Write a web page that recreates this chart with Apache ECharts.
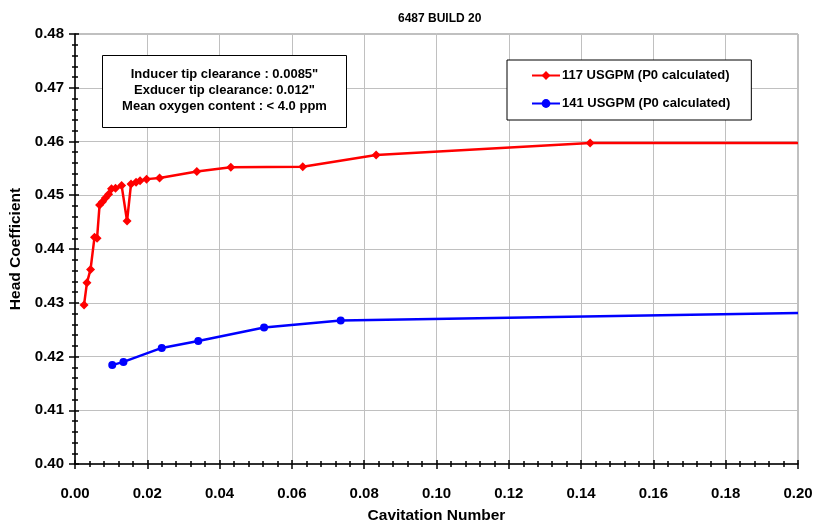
<!DOCTYPE html>
<html>
<head>
<meta charset="utf-8">
<script src="https://cdn.jsdelivr.net/npm/echarts@6/dist/echarts.min.js"></script>
<style>html,body{margin:0;padding:0;background:#fff;}#c{width:814px;height:522px;}</style>
</head>
<body>
<div id="c"></div>
<script>
const titleText = '6487 BUILD 20';
const xAxisName = 'Cavitation Number';
const yAxisName = 'Head Coefficient';
const seriesNames = ['117 USGPM (P0 calculated)', '141 USGPM (P0 calculated)'];
const noteLines = ['Inducer tip clearance : 0.0085"', 'Exducer tip clearance: 0.012"', 'Mean oxygen content : < 4.0 ppm'];

const redX = [0.0025, 0.0033, 0.0043, 0.0054, 0.0061, 0.0068, 0.0076, 0.0084, 0.0093, 0.0101, 0.0112, 0.0129, 0.0144, 0.0155, 0.0169, 0.0180, 0.0198, 0.0234, 0.0337, 0.0431, 0.0630, 0.0833, 0.1425, 0.2000];
const redY = [0.4296, 0.4337, 0.4362, 0.4422, 0.4420, 0.4482, 0.4488, 0.4495, 0.4502, 0.4512, 0.4513, 0.4518, 0.4452, 0.4521, 0.4524, 0.4527, 0.4530, 0.4532, 0.4544, 0.4552, 0.4553, 0.4575, 0.4597, 0.4597];
const blueX = [0.0103, 0.0134, 0.0240, 0.0341, 0.0523, 0.0735, 0.2000];
const blueY = [0.4184, 0.4190, 0.4216, 0.4229, 0.4254, 0.4267, 0.4281];

const xMin = 0, xMax = 0.2, xStep = 0.02;
const yMin = 0.40, yMax = 0.48, yStep = 0.01;

const FONT = '"Liberation Sans", Arial, sans-serif';

function toData(xs, ys, lastHidden) {
  return xs.map((x, i) => {
    const item = { value: [x, ys[i]] };
    if (lastHidden && i === xs.length - 1) item.symbol = 'none';
    return item;
  });
}

const chart = echarts.init(document.getElementById('c'), null, { renderer: 'canvas' });

const baseX = {
  type: 'value', min: xMin, max: xMax, interval: xStep, position: 'bottom'
};
const baseY = {
  type: 'value', min: yMin, max: yMax, interval: yStep, position: 'left'
};

chart.setOption({
  animation: false,
  backgroundColor: '#ffffff',
  title: {
    text: titleText, left: 393, top: 8,
    textStyle: { fontFamily: FONT, fontSize: 12, fontWeight: 'bold', color: '#000' }
  },
  grid: {
    left: 75, right: 16, top: 34, bottom: 58,
    containLabel: false, outerBoundsMode: 'none',
    show: true, borderColor: '#808080', borderWidth: 1, backgroundColor: 'transparent'
  },
  legend: {
    orient: 'vertical', left: 507, top: 60,
    padding: [9, 21, 10, 24],
    itemGap: 15, itemWidth: 28, itemHeight: 11,
    borderColor: '#000', borderWidth: 1, backgroundColor: '#fff',
    textStyle: { fontFamily: FONT, fontSize: 13, fontWeight: 'bold', color: '#000', padding: [0, 0, 0, -3] },
    data: seriesNames,
    z: 10
  },
  xAxis: [
    Object.assign({}, baseX, {
      name: xAxisName, nameLocation: 'middle', nameGap: 44,
      nameTextStyle: { fontFamily: FONT, fontSize: 15.5, fontWeight: 'bold', color: '#000' },
      axisLine: { show: true, onZero: false, lineStyle: { color: '#000', width: 1.5 } },
      axisTick: { show: true, inside: false, length: 5, lineStyle: { color: '#000', width: 1.5 } },
      minorTick: { show: true, splitNumber: 5, length: 3, lineStyle: { color: '#000', width: 1.5 } },
      axisLabel: { margin: 22, fontFamily: FONT, fontSize: 15, fontWeight: 'bold', color: '#000',
        formatter: v => v.toFixed(2) },
      splitLine: { show: true, lineStyle: { color: '#c0c0c0', width: 1 } }
    }),
    Object.assign({}, baseX, {
      axisLine: { show: false, onZero: false },
      axisTick: { show: true, inside: true, length: 4, lineStyle: { color: '#000', width: 1.5 } },
      minorTick: { show: true, splitNumber: 5, length: 3, lineStyle: { color: '#000', width: 1.5 } },
      axisLabel: { show: false },
      splitLine: { show: false }
    })
  ],
  yAxis: [
    Object.assign({}, baseY, {
      name: yAxisName, nameLocation: 'middle', nameGap: 48, nameRotate: 90,
      nameTextStyle: { fontFamily: FONT, fontSize: 15.5, fontWeight: 'bold', color: '#000' },
      axisLine: { show: true, onZero: false, lineStyle: { color: '#000', width: 1.5 } },
      axisTick: { show: true, inside: false, length: 6, lineStyle: { color: '#000', width: 1.5 } },
      minorTick: { show: true, splitNumber: 5, length: 3, lineStyle: { color: '#000', width: 1.5 } },
      axisLabel: { margin: 11, fontFamily: FONT, fontSize: 15, fontWeight: 'bold', color: '#000',
        formatter: v => v.toFixed(2) },
      splitLine: { show: true, lineStyle: { color: '#c0c0c0', width: 1 } }
    }),
    Object.assign({}, baseY, {
      axisLine: { show: false, onZero: false },
      axisTick: { show: true, inside: true, length: 4, lineStyle: { color: '#000', width: 1.5 } },
      minorTick: { show: true, splitNumber: 5, length: 3, lineStyle: { color: '#000', width: 1.5 } },
      axisLabel: { show: false },
      splitLine: { show: false }
    })
  ],
  graphic: [
    {
      type: 'group', left: 102, top: 55, z: 100,
      children: [
        { type: 'rect', z: 100, shape: { x: 0, y: 0, width: 244, height: 72 },
          style: { fill: '#fff', stroke: '#000', lineWidth: 1 } },
        { type: 'text', z: 101, x: 122, y: 19,
          style: { text: noteLines[0], textAlign: 'center', textVerticalAlign: 'middle',
            font: 'bold 13px ' + FONT, fill: '#000' } },
        { type: 'text', z: 101, x: 122, y: 35,
          style: { text: noteLines[1], textAlign: 'center', textVerticalAlign: 'middle',
            font: 'bold 13px ' + FONT, fill: '#000' } },
        { type: 'text', z: 101, x: 122, y: 51,
          style: { text: noteLines[2], textAlign: 'center', textVerticalAlign: 'middle',
            font: 'bold 13px ' + FONT, fill: '#000' } }
      ]
    }
  ],
  series: [
    {
      name: seriesNames[0], type: 'line', xAxisIndex: 0, yAxisIndex: 0,
      data: toData(redX, redY, true),
      symbol: 'diamond', symbolSize: 9, showAllSymbol: true,
      lineStyle: { color: '#ff0000', width: 2.5 },
      itemStyle: { color: '#ff0000' },
      z: 3
    },
    {
      name: seriesNames[1], type: 'line', xAxisIndex: 0, yAxisIndex: 0,
      data: toData(blueX, blueY, true),
      symbol: 'circle', symbolSize: 8, showAllSymbol: true,
      lineStyle: { color: '#0000ff', width: 2.5 },
      itemStyle: { color: '#0000ff' },
      z: 3
    }
  ]
});
</script>
</body>
</html>
